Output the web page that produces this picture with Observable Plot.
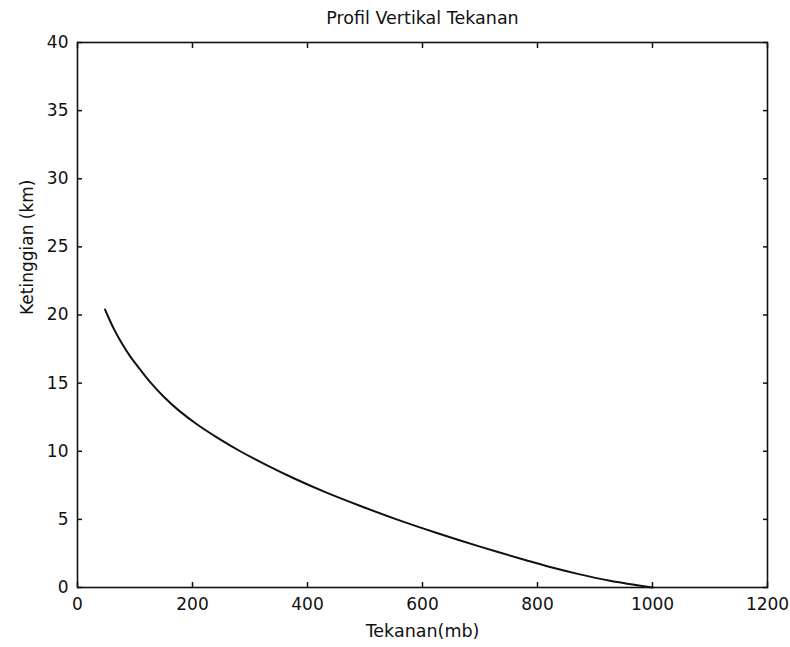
<!DOCTYPE html>
<html>
<head>
<meta charset="utf-8">
<script src="https://cdn.jsdelivr.net/npm/d3@7"></script>
<script src="https://cdn.jsdelivr.net/npm/@observablehq/plot@0.6"></script>
<style>
  html, body { margin: 0; padding: 0; background: #ffffff; }
  #chart svg { display: block; }
</style>
</head>
<body>
<div id="chart"></div>
<script>
// Vertical pressure profile: height (km) against pressure (mb)
const heightKm = [0, 0.5, 1, 1.5, 2, 3, 4, 5, 6, 7, 8, 9, 10, 11, 12, 13, 14, 15, 16, 17, 18, 19, 20, 20.4];
const pressureMb = [1000, 926, 870, 822, 780, 700, 625, 555, 491, 431, 377, 328, 283, 243, 207, 176, 150, 128, 109, 91, 76, 63, 52, 48];

const xTicks = [0, 200, 400, 600, 800, 1000, 1200];
const yTicks = [0, 5, 10, 15, 20, 25, 30, 35, 40];

const titleText = "Profil Vertikal Tekanan";
const xLabel = "Tekanan(mb)";
const yLabel = "Ketinggian (km)";

const profile = heightKm.map((h, i) => ({height: h, pressure: pressureMb[i]}));

const font = "'DejaVu Sans', 'Liberation Sans', sans-serif";
const tick = 5;

const chart = Plot.plot({
  width: 790,
  height: 647,
  marginLeft: 77,
  marginRight: 23,
  marginTop: 42,
  marginBottom: 60,
  style: {fontFamily: font, fontSize: "17px", color: "#111", background: "#ffffff"},
  x: {domain: [0, 1200]},
  y: {domain: [0, 40]},
  marks: [
    // tick labels
    Plot.axisX({ticks: xTicks, anchor: "bottom", tickSize: 0, tickPadding: 10, label: null, tickFormat: d => String(d)}),
    Plot.axisY({ticks: yTicks, anchor: "left", tickSize: 0, tickPadding: 9, label: null, tickFormat: d => String(d)}),
    // inward tick marks on all four sides
    Plot.axisX({ticks: xTicks, anchor: "bottom", tickSize: -tick, tickFormat: () => "", label: null, strokeWidth: 1.5}),
    Plot.axisX({ticks: xTicks, anchor: "top", tickSize: -tick, tickFormat: () => "", label: null, strokeWidth: 1.5}),
    Plot.axisY({ticks: yTicks, anchor: "left", tickSize: -tick, tickFormat: () => "", label: null, strokeWidth: 1.5}),
    Plot.axisY({ticks: yTicks, anchor: "right", tickSize: -tick, tickFormat: () => "", label: null, strokeWidth: 1.5}),
    Plot.frame({stroke: "#111", strokeWidth: 1.6}),
    // the profile curve
    Plot.line(profile, {x: "pressure", y: "height", stroke: "#111", strokeWidth: 2, curve: "catmull-rom"}),
    // title and axis labels
    Plot.text([titleText], {frameAnchor: "top", dy: -24, lineAnchor: "middle", fontSize: 17.5, fill: "#111"}),
    Plot.text([xLabel], {frameAnchor: "bottom", dy: 44, lineAnchor: "middle", fontSize: 17.5, fill: "#111"}),
    Plot.text([yLabel], {frameAnchor: "left", dx: -50, rotate: -90, lineAnchor: "middle", fontSize: 17, fill: "#111"})
  ]
});

document.getElementById("chart").append(chart);
</script>
</body>
</html>
